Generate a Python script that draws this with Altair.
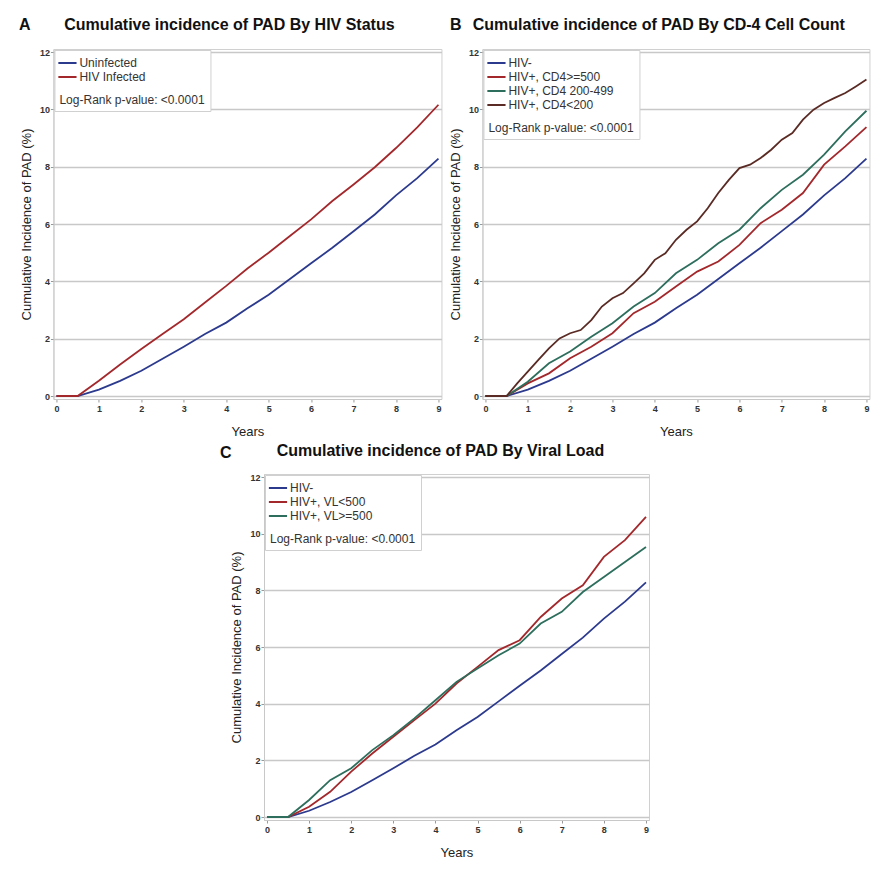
import altair as alt
import pandas as pd

FONT = "Liberation Sans"
P_TEXT = "Log-Rank p-value: <0.0001"

# ---- data (cumulative incidence, %) ----
YEARS = [0, 0.5, 1, 1.5, 2, 2.5, 3, 3.5, 4, 4.5, 5, 5.5, 6, 6.5, 7, 7.5, 8, 8.5, 9]
YEARS_Q = [0, 0.5, 0.75, 1, 1.25, 1.5, 1.75, 2, 2.25, 2.5, 2.75, 3, 3.25, 3.5, 3.75,
           4, 4.25, 4.5, 4.75, 5, 5.25, 5.5, 5.75, 6, 6.25, 6.5, 6.75, 7, 7.25, 7.5,
           7.75, 8, 8.25, 8.5, 8.75, 9]

HIV_NEG = [0, 0, 0.22, 0.53, 0.88, 1.3, 1.72, 2.16, 2.56, 3.06, 3.53, 4.08, 4.63,
           5.17, 5.75, 6.33, 7.0, 7.6, 8.28]
HIV_POS = [0, 0, 0.53, 1.1, 1.64, 2.16, 2.68, 3.26, 3.84, 4.45, 5.0, 5.58, 6.16,
           6.8, 7.38, 7.98, 8.65, 9.37, 10.16]

CD4_GE500 = [0, 0, 0.44, 0.79, 1.32, 1.72, 2.19, 2.89, 3.29, 3.82, 4.34, 4.69, 5.27,
             6.03, 6.5, 7.08, 8.07, 8.71, 9.38]
CD4_200_499 = [0, 0, 0.5, 1.14, 1.55, 2.07, 2.54, 3.12, 3.59, 4.28, 4.75, 5.33, 5.8,
               6.55, 7.19, 7.72, 8.42, 9.23, 9.95]
CD4_LT200 = [0, 0, 0.44, 0.85, 1.26, 1.66, 2.01, 2.19, 2.3, 2.65, 3.12, 3.41, 3.59,
             3.93, 4.28, 4.75, 4.98, 5.45, 5.8, 6.09, 6.55, 7.08, 7.54, 7.95, 8.07,
             8.3, 8.59, 8.94, 9.17, 9.64, 9.99, 10.22, 10.4, 10.57, 10.8, 11.04]

VL_LT500 = [0, 0, 0.36, 0.89, 1.6, 2.24, 2.83, 3.42, 4.0, 4.71, 5.3, 5.89, 6.24,
            7.06, 7.71, 8.18, 9.18, 9.77, 10.59]
VL_GE500 = [0, 0, 0.6, 1.3, 1.72, 2.36, 2.89, 3.48, 4.12, 4.77, 5.24, 5.71, 6.12,
            6.83, 7.24, 7.94, 8.47, 9.0, 9.53]

BLUE, RED, GREEN, BROWN = "#2C3A8E", "#A3282C", "#2D6E5C", "#5A2B24"

X_TICKS = list(range(10))
Y_TICKS = [0, 2, 4, 6, 8, 10, 12]


def make_df(series):
    rows = []
    for name, xs, ys in series:
        for x, y in zip(xs, ys):
            rows.append({"group": name, "year": x, "inc": y})
    return pd.DataFrame(rows)


def panel(series, colors, letter, letter_pos, title, title_pos, w, h, extra_right=0):
    df = make_df(series)
    names = [s[0] for s in series]
    legend = alt.Legend(
        title=P_TEXT, titleOrient="bottom", titleAnchor="start", titleAlign="left",
        titleFontSize=12, titleFontWeight="normal", titleFont=FONT, titleColor="#333",
        titlePadding=12, orient="top-left", offset=1, padding=5,
        strokeColor="#d0d0d0", fillColor="white", symbolType="M-1.3,0H1.3",
        symbolSize=196, symbolStrokeWidth=2, labelFontSize=12, labelFont=FONT,
        labelColor="#333", labelOffset=4, rowPadding=0,
    )
    lines = alt.Chart(df).mark_line(strokeWidth=1.8).encode(
        x=alt.X("year:Q", scale=alt.Scale(domain=[0, 9], nice=False, padding=3),
                axis=alt.Axis(values=X_TICKS, title="Years", grid=False,
                              labelFlush=False, labelFontSize=9, labelFont=FONT,
                              labelFontWeight="bold", labelColor="#333",
                              tickSize=3, tickColor="#999", domainColor="#c8c8c8",
                              labelPadding=2, titleFont=FONT, titleFontSize=13,
                              titleFontWeight="normal", titleColor="#222",
                              titlePadding=12)),
        y=alt.Y("inc:Q", scale=alt.Scale(domain=[0, 12], nice=False, padding=3),
                axis=alt.Axis(values=Y_TICKS, title="Cumulative Incidence of PAD (%)",
                              grid=True, gridColor="#c8c8c8", gridWidth=1.5,
                              labelFontSize=9, labelFont=FONT, labelFontWeight="bold",
                              labelColor="#333", tickSize=3, tickColor="#999",
                              domainColor="#c8c8c8", labelPadding=1,
                              titleFont=FONT, titleFontSize=13,
                              titleFontWeight="normal", titleColor="#222",
                              titlePadding=6)),
        color=alt.Color("group:N", scale=alt.Scale(domain=names, range=colors),
                        legend=legend),
    )
    letter_t = alt.Chart(pd.DataFrame({"t": [letter]})).mark_text(
        font=FONT, fontSize=16, fontWeight="bold", color="#111",
        align="center", baseline="alphabetic",
    ).encode(x=alt.value(letter_pos[0]), y=alt.value(letter_pos[1]), text="t:N")
    title_t = alt.Chart(pd.DataFrame({"t": [title]})).mark_text(
        font=FONT, fontSize=16, fontWeight="bold", color="#111",
        align="left", baseline="alphabetic",
    ).encode(x=alt.value(title_pos[0]), y=alt.value(title_pos[1]), text="t:N")
    layers = [lines, letter_t, title_t]
    if extra_right:
        # invisible spacer that widens the panel's bounds on the right
        layers.append(alt.Chart(pd.DataFrame({"t": ["."]})).mark_text(opacity=0).encode(
            x=alt.value(w + extra_right), y=alt.value(h), text="t:N"))
    return alt.layer(*layers).properties(width=w, height=h)


panel_a = panel(
    [("Uninfected", YEARS, HIV_NEG), ("HIV Infected", YEARS, HIV_POS)],
    [BLUE, RED], "A", (-28.6, -19), "Cumulative incidence of PAD By HIV Status",
    (10.7, -19), 388, 350,
)
panel_b = panel(
    [("HIV-", YEARS, HIV_NEG), ("HIV+, CD4>=500", YEARS, CD4_GE500),
     ("HIV+, CD4 200-499", YEARS, CD4_200_499), ("HIV+, CD4<200", YEARS_Q, CD4_LT200)],
    [BLUE, RED, GREEN, BROWN], "B", (-26.7, -19), "Cumulative incidence of PAD By CD-4 Cell Count",
    (-9.7, -19), 387, 350,
)
panel_c = panel(
    [("HIV-", YEARS, HIV_NEG), ("HIV+, VL<500", YEARS, VL_LT500),
     ("HIV+, VL>=500", YEARS, VL_GE500)],
    [BLUE, RED, GREEN], "C", (-38.3, -16.3), "Cumulative incidence of PAD By Viral Load",
    (12.7, -18.3), 385, 346, extra_right=9,
)

top = alt.hconcat(panel_a, panel_b, spacing=5).resolve_scale(color="independent")
chart = alt.vconcat(top, panel_c, spacing=3, center=True).resolve_scale(
    color="independent"
).properties(
    padding={"left": 10, "top": 8, "right": 5, "bottom": 5},
    background="white",
).configure_view(stroke="#d0d0d0", strokeWidth=1)

chart.save("out.html", embed_options={"renderer": "svg", "actions": False})
